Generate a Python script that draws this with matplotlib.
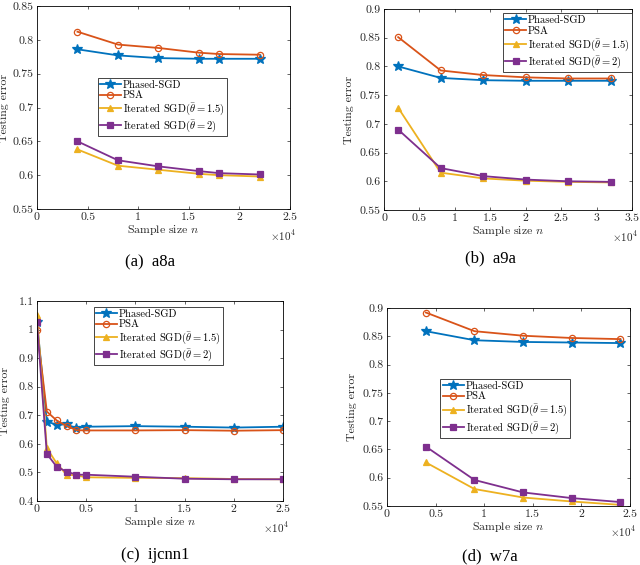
import numpy as np
import matplotlib
matplotlib.use("Agg")
import matplotlib.pyplot as plt
from matplotlib.ticker import FuncFormatter

plt.rcParams.update({
    "font.family": ["cmr10", "DejaVu Serif"],
    "mathtext.fontset": "cm",
    "axes.formatter.use_mathtext": True,
    "font.size": 8.5,
    "axes.linewidth": 0.6,
    "xtick.direction": "in",
    "ytick.direction": "in",
    "xtick.top": True,
    "ytick.right": True,
    "xtick.major.size": 2.5,
    "ytick.major.size": 2.5,
    "xtick.major.width": 0.5,
    "ytick.major.width": 0.5,
})

LABELS = ["Phased-SGD", "PSA",
          r"Iterated SGD($\bar{\theta}=1.5$)", r"Iterated SGD($\bar{\theta}=2$)"]
COLORS = ["#0072BD", "#D95319", "#EDB120", "#7E2F8E"]
MARKERS = ["*", "o", "^", "s"]

# (a) a8a
a_n = [4000, 8000, 12000, 16000, 18000, 22000]
a_phased = [0.786, 0.777, 0.773, 0.772, 0.772, 0.772]
a_psa = [0.812, 0.793, 0.788, 0.781, 0.779, 0.778]
a_it15 = [0.638, 0.614, 0.608, 0.602, 0.600, 0.598]
a_it2 = [0.650, 0.622, 0.613, 0.606, 0.603, 0.601]

# (b) a9a
b_n = [2000, 8000, 14000, 20000, 26000, 32000]
b_phased = [0.800, 0.780, 0.776, 0.775, 0.775, 0.775]
b_psa = [0.851, 0.793, 0.785, 0.781, 0.779, 0.779]
b_it15 = [0.728, 0.615, 0.605, 0.601, 0.599, 0.598]
b_it2 = [0.690, 0.623, 0.609, 0.603, 0.600, 0.599]

# (c) ijcnn1
c_n = [0, 1000, 2000, 3000, 4000, 5000, 10000, 15000, 20000, 25000]
c_phased = [1.025, 0.678, 0.667, 0.668, 0.655, 0.660, 0.662, 0.660, 0.657, 0.660]
c_psa = [1.000, 0.713, 0.682, 0.663, 0.648, 0.647, 0.647, 0.648, 0.646, 0.648]
c_it15 = [1.050, 0.585, 0.532, 0.492, 0.490, 0.483, 0.481, 0.480, 0.477, 0.476]
c_it2 = [1.025, 0.565, 0.520, 0.503, 0.492, 0.492, 0.485, 0.478, 0.476, 0.476]

# (d) w7a
d_n = [4000, 9000, 14000, 19000, 24000]
d_phased = [0.859, 0.843, 0.840, 0.839, 0.838]
d_psa = [0.892, 0.859, 0.851, 0.847, 0.845]
d_it15 = [0.627, 0.580, 0.565, 0.558, 0.552]
d_it2 = [0.655, 0.596, 0.574, 0.564, 0.557]

W, H = 640, 565


def rect(l, t, r, b):
    return [l / W, 1 - b / H, (r - l) / W, (b - t) / H]


panels = [
    dict(rect=rect(37, 6, 290, 209), n=a_n, ys=[a_phased, a_psa, a_it15, a_it2],
         xlim=(0, 25000), ylim=(0.55, 0.85), yt=np.arange(0.55, 0.851, 0.05),
         xt=np.arange(0, 25001, 5000), leg=dict(loc="upper left", bbox_to_anchor=(0.24, 0.645)),
         cap="(a)  a8a", capy=262, capx=150, ylx=9),
    dict(rect=rect(384, 9, 632, 210), n=b_n, ys=[b_phased, b_psa, b_it15, b_it2],
         xlim=(0, 35000), ylim=(0.55, 0.9), yt=np.arange(0.55, 0.901, 0.05),
         xt=np.arange(0, 35001, 5000), leg=dict(loc="upper right", bbox_to_anchor=(1.0, 0.978)),
         cap="(b)  a9a", capy=258, capx=490, ylx=354),
    dict(rect=rect(37, 301, 283, 501), n=c_n, ys=[c_phased, c_psa, c_it15, c_it2],
         xlim=(0, 25000), ylim=(0.4, 1.1), yt=np.arange(0.4, 1.101, 0.1),
         xt=np.arange(0, 25001, 5000), leg=dict(loc="upper left", bbox_to_anchor=(0.23, 0.97)),
         cap="(c)  ijcnn1", capy=555, capx=155, ylx=10),
    dict(rect=rect(387, 308, 630, 506), n=d_n, ys=[d_phased, d_psa, d_it15, d_it2],
         xlim=(0, 25000), ylim=(0.55, 0.9), yt=np.arange(0.55, 0.901, 0.05),
         xt=np.arange(0, 25001, 5000), leg=dict(loc="upper left", bbox_to_anchor=(0.22, 0.64)),
         cap="(d)  w7a", capy=556, capx=490, ylx=357),
]

fig = plt.figure(figsize=(6.4, 5.65), dpi=100)
fmt_x = FuncFormatter(lambda v, p: f"{v / 1e4:g}")
fmt_y = FuncFormatter(lambda v, p: f"{v:g}")

for P in panels:
    ax = fig.add_axes(P["rect"])
    for y, lab, col, mk in zip(P["ys"], LABELS, COLORS, MARKERS):
        face = "none" if mk == "o" else col
        ms = 7.5 if mk == "*" else 4.5
        ax.plot(P["n"], y, color=col, marker=mk, markersize=ms, markerfacecolor=face,
                markeredgecolor=col, markeredgewidth=0.9, linewidth=1.3, label=lab)
    ax.set_xlim(*P["xlim"])
    ax.set_ylim(*P["ylim"])
    ax.set_xticks(P["xt"])
    ax.set_yticks(P["yt"])
    ax.xaxis.set_major_formatter(fmt_x)
    ax.yaxis.set_major_formatter(fmt_y)
    ax.tick_params(labelsize=8.5, colors="#262626", pad=2.5)
    ax.set_xlabel(r"Sample size $n$", fontsize=8.5, labelpad=1, color="#262626")
    ax.set_ylabel("Testing error", fontsize=8.5, color="#262626")
    l, b, w, h = P["rect"]
    ax.yaxis.set_label_coords((P["ylx"] / W - l) / w, 0.5)
    ax.text(1.025, -0.095, r"$\times10^4$", transform=ax.transAxes, ha="right", va="top",
            fontsize=8, color="#262626")
    leg = ax.legend(**P["leg"], fontsize=7.6, frameon=True, fancybox=False,
                    edgecolor="#262626", framealpha=1, borderpad=0.2, labelspacing=0.1,
                    handlelength=2.0, handletextpad=0.2, borderaxespad=0.0)
    leg.get_frame().set_linewidth(0.6)
    fig.text(P["capx"] / W, 1 - P["capy"] / H, P["cap"], ha="center", va="center",
             fontsize=12, family=["Liberation Serif", "DejaVu Serif"])

fig.savefig("out.png", dpi=100)
